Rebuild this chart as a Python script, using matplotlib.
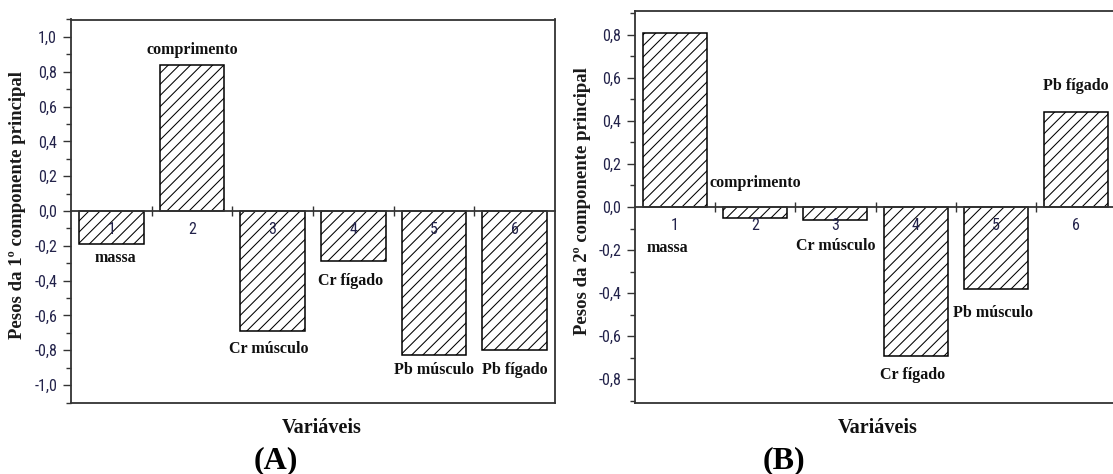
import matplotlib
matplotlib.use("Agg")
import matplotlib.pyplot as plt
from matplotlib import font_manager
import numpy as np

# ---- data ----
variables = ["massa", "comprimento", "Cr músculo", "Cr fígado", "Pb músculo", "Pb fígado"]
tick_labels = ["1", "2", "3", "4", "5", "6"]
pc1_weights = [-0.19, 0.84, -0.69, -0.285, -0.83, -0.80]
pc2_weights = [0.81, -0.05, -0.06, -0.69, -0.38, 0.44]

# ---- layout (label positions in data units) ----
lab_y_A = [-0.27, 0.925, -0.79, -0.40, -0.914, -0.914]
lab_dx_A = [0.05, 0, -0.05, -0.03, 0, 0]
lab_y_B = [-0.19, 0.113, -0.18, -0.78, -0.49, 0.56]
lab_dx_B = [-0.1, 0, 0, -0.04, -0.03, 0]

avail = {f.name for f in font_manager.fontManager.ttflist}
tick_font = "DejaVu Sans"
tick_size = 10
for cand, sz in [("Liberation Sans Narrow", 12), ("Roboto Condensed", 11.5),
                 ("DejaVu Sans Condensed", 10.5), ("Liberation Sans", 11)]:
    if cand in avail:
        tick_font, tick_size = cand, sz
        break
serif = "Liberation Serif"
tick_color = "#22224a"
spine_color = "#333333"

plt.rcParams["hatch.color"] = "#3a3a3a"
plt.rcParams["hatch.linewidth"] = 0.75

W, H = 1113, 474
fig = plt.figure(figsize=(W / 100, H / 100), dpi=100)

def make_panel(rect_px, values, ylim, major, ylabel, lab_y, lab_dx, xlab_px, letter_px, letter):
    l, t, r, b = rect_px
    ax = fig.add_axes([l / W, 1 - b / H, (r - l) / W, (b - t) / H])
    x = np.arange(1, len(values) + 1)
    ax.bar(x, values, width=0.8, color="white", edgecolor="black", linewidth=1.1,
           hatch="///", zorder=2)
    ax.set_xlim(0.5, 6.5)
    ax.set_ylim(*ylim)
    ax.set_xticks([])
    ax.set_yticks(major)
    ax.set_yticklabels([f"{v:.1f}".replace(".", ",").replace("-0,0", "0,0") for v in major],
                       fontfamily=tick_font, fontsize=tick_size, color=tick_color)
    ax.set_yticks(np.round(np.arange(major[0] - 0.1, major[-1] + 0.11, 0.2), 2), minor=True)
    ax.tick_params(axis="y", which="major", length=6, width=1.0, color=spine_color, pad=4)
    ax.tick_params(axis="y", which="minor", length=3.5, width=1.0, color=spine_color)
    for s in ax.spines.values():
        s.set_linewidth(1.3)
        s.set_color(spine_color)
    # zero axis line with category numbers
    sec = ax.secondary_xaxis(0.5)
    sec.set_alignment("bottom")
    sec.set_zorder(5)
    sec.set_xticks(x, labels=tick_labels)
    sec.set_xticks(x[:-1] + 0.5, minor=True)
    sec.tick_params(axis="x", which="major", length=0, pad=8, labelsize=tick_size,
                    labelcolor=tick_color)
    for lbl in sec.get_xticklabels():
        lbl.set_fontfamily(tick_font)
    sec.tick_params(axis="x", which="minor", length=7, width=1.0, direction="inout",
                    color=spine_color)
    sec.spines["bottom"].set_linewidth(1.3)
    sec.spines["bottom"].set_color(spine_color)
    ax.set_ylabel(ylabel, fontfamily=serif, fontweight="bold", fontsize=13.5, color="#1a1a1a")
    ax.yaxis.set_label_coords(-0.092, 0.515)
    for i, name in enumerate(variables):
        ax.text(x[i] + lab_dx[i], lab_y[i], name, ha="center", va="center",
                fontfamily=serif, fontweight="bold", fontsize=11.5, color="#111111",
                zorder=3)
    fig.text(xlab_px[0] / W, 1 - xlab_px[1] / H, "Variáveis", ha="center", va="center",
             fontfamily=serif, fontweight="bold", fontsize=14.5, color="#111111")
    fig.text(letter_px[0] / W, 1 - letter_px[1] / H, letter, ha="center", va="center",
             fontfamily=serif, fontweight="bold", fontsize=23, color="black")
    return ax

make_panel((71, 19.5, 555, 402.5), pc1_weights, (-1.0, 1.0),
           np.round(np.arange(-1.0, 1.01, 0.2), 1),
           "Pesos da 1º componente principal", lab_y_A, lab_dx_A,
           (322, 428), (276, 461), "(A)")
make_panel((635, 11, 1116, 403), pc2_weights, (-0.91, 0.91),
           np.round(np.arange(-0.8, 0.81, 0.2), 1),
           "Pesos da 2º componente principal", lab_y_B, lab_dx_B,
           (878, 428), (784, 461), "(B)")

fig.savefig("out.png", dpi=100)
